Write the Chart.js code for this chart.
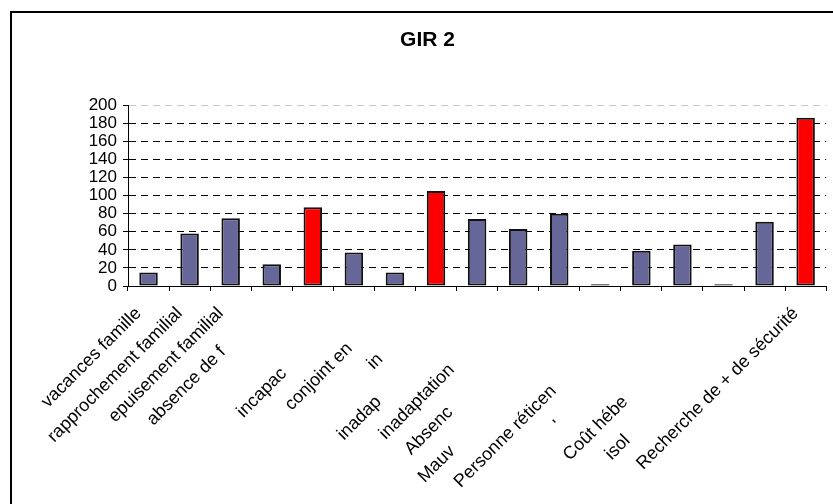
<!doctype html>
<html lang="fr">
<head>
  <meta charset="utf-8">
  <title>GIR 2</title>
  <script src="https://cdn.jsdelivr.net/npm/chart.js"></script>
  <style>
    html, body { margin: 0; padding: 0; background: #fff; overflow: hidden; }
    #frame { position: absolute; left: 10px; top: 11px; width: 900px; height: 600px; border: 2px solid #000; }
    #wrap { position: absolute; left: 0; top: 0; width: 833px; height: 504px; }
  </style>
</head>
<body>
  <div id="frame"></div>
  <div id="wrap"><canvas id="gir"></canvas></div>
<script>
  // ---------------- data ----------------
  const categories = ["vacances famille", "rapprochement familial", "epuisement familial", "absence de f", "",
    "incapac", "conjoint en", "in", "inadap", "inadaptation", "Absenc", "Mauv", "Personne réticen", "'",
    "Coût hébe", "isol", "Recherche de + de sécurité"]
  const values = [15, 58, 75, 24, 87, 37, 15, 105, 74, 63, 80, 2, 39, 46, 2, 71, 186]
  const highlighted = [4, 7, 16]   // red bars
  const yTicks = [0, 20, 40, 60, 80, 100, 120, 140, 160, 180, 200]

  // labels were clipped / staggered in the original, push them down along the slant
  const labelIndent = [0, 0, 0, 11, 0, 17, 10, 13, 25, 16, 28, 39, 22, 32, 25, 36, 0]

  const blue = '#666699'
  const red = '#ff0000'
  const colors = values.map((v, i) => highlighted.includes(i) ? red : blue)

  Chart.defaults.font.family = "Arial, 'Liberation Sans', sans-serif"
  Chart.defaults.color = '#000'

  new Chart(document.getElementById('gir'), {
    type: 'bar',
    data: {
      labels: categories,
      datasets: [{
        data: values,
        backgroundColor: colors,
        borderColor: '#111',
        borderWidth: 2,
        borderSkipped: false,
        categoryPercentage: 1,
        barPercentage: 0.45
      }]
    },
    options: {
      responsive: true,
      maintainAspectRatio: false,
      animation: false,
      layout: { padding: { left: 25, right: 3, top: 0, bottom: 0 } },
      plugins: {
        legend: { display: false },
        tooltip: { enabled: false },
        title: {
          display: true,
          text: 'GIR 2',
          font: { size: 21, weight: 'bold' },
          padding: { top: 28, bottom: 52 }
        }
      },
      scales: {
        x: {
          afterFit: (scale) => { scale.height = 218 },
          border: { color: '#000', width: 1 },
          grid: { drawOnChartArea: false, tickLength: 5, color: '#000' },
          ticks: {
            autoSkip: false,
            minRotation: 45,
            maxRotation: 45,
            font: { size: 18 },
            padding: 12,
            labelOffset: -10,
            callback: function (value, index) {
              return this.getLabelForValue(value) + ' '.repeat(labelIndent[index] || 0)
            }
          }
        },
        y: {
          min: 0,
          max: 200,
          afterFit: (scale) => { scale.width = 103 },
          afterBuildTicks: (scale) => { scale.ticks = yTicks.map(v => ({ value: v })) },
          border: { color: '#000', width: 1, dash: [7, 5] },
          grid: {
            color: (ctx) => ctx.tick && ctx.tick.value === 200 ? '#c8c8c8' : '#000',
            tickColor: '#000',
            tickLength: 5,
            tickBorderDash: [],
            lineWidth: 1
          },
          ticks: { font: { size: 17 }, padding: 6, autoSkip: false, stepSize: 20 }
        }
      }
    }
  })
</script>
</body>
</html>
